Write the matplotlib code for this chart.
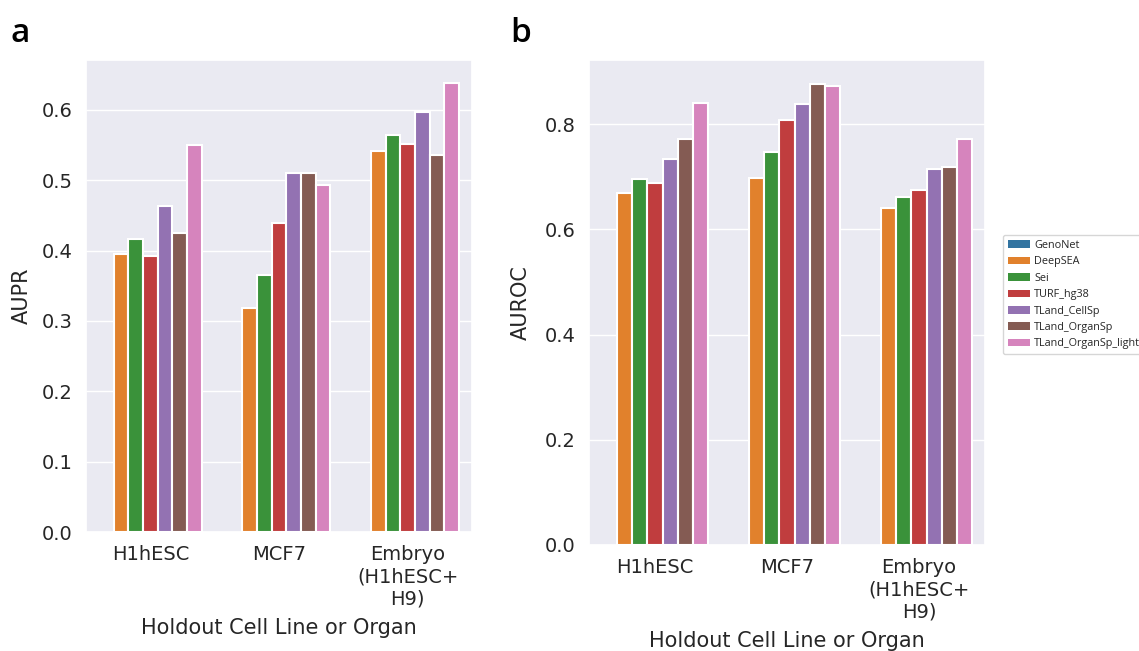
import matplotlib
matplotlib.use("Agg")
import matplotlib.pyplot as plt
import numpy as np
import seaborn as sns
from matplotlib.patches import Patch

# data
groups = ["H1hESC", "MCF7", "Embryo\n(H1hESC+\nH9)"]
models = ["GenoNet", "DeepSEA", "Sei", "TURF_hg38", "TLand_CellSp", "TLand_OrganSp", "TLand_OrganSp_light"]

# rows = models, cols = groups (GenoNet has no value)
aupr = [
    [np.nan, np.nan, np.nan],
    [0.395, 0.319, 0.541],
    [0.416, 0.366, 0.565],
    [0.393, 0.439, 0.551],
    [0.463, 0.511, 0.597],
    [0.425, 0.511, 0.536],
    [0.550, 0.494, 0.639],
]
auroc = [
    [np.nan, np.nan, np.nan],
    [0.669, 0.697, 0.640],
    [0.695, 0.747, 0.661],
    [0.688, 0.807, 0.675],
    [0.733, 0.838, 0.714],
    [0.772, 0.877, 0.718],
    [0.841, 0.872, 0.772],
]

sns.set_theme(style="darkgrid")
plt.rcParams["font.family"] = ["DejaVu Sans"]

colors = [sns.desaturate(c, 0.75) for c in sns.color_palette("tab10", len(models))]

W, H = 1139, 651
fig = plt.figure(figsize=(W / 100, H / 100), dpi=100)


def px_axes(left, top, right, bottom):
    return fig.add_axes([left / W, 1 - bottom / H, (right - left) / W, (bottom - top) / H])


def draw_panel(ax, values, ylabel, ymax, ypad):
    n = len(models)
    width = 0.8 / n
    x = np.arange(len(groups))
    for i, (name, vals) in enumerate(zip(models, values)):
        offs = -0.4 + width * (i + 0.5)
        ax.bar(x + offs, vals, width=width, color=colors[i], edgecolor="white", linewidth=1.5, label=name)
    ax.set_xticks(x)
    ax.set_xticklabels(groups, fontsize=14)
    ax.set_xlim(-0.5, len(groups) - 0.5)
    ax.set_ylim(0, ymax)
    ax.grid(axis="x", visible=False)
    ax.tick_params(axis="y", labelsize=14)
    ax.set_ylabel(ylabel, fontsize=15, labelpad=ypad)
    ax.set_xlabel("Holdout Cell Line or Organ", fontsize=15, labelpad=7)


ax1 = px_axes(86, 60, 472, 532)
draw_panel(ax1, aupr, "AUPR", 0.671, 7.5)
ax1.set_yticks(np.arange(0, 0.61, 0.1))

ax2 = px_axes(589, 60, 985, 545)
draw_panel(ax2, auroc, "AUROC", 0.922, 10)
ax2.set_yticks(np.arange(0, 0.81, 0.2))

fig.text(10 / W, 1 - 42 / H, "a", fontsize=24, fontweight="semibold", color="black",
         family=["Open Sans", "DejaVu Sans"])
fig.text(510 / W, 1 - 42 / H, "b", fontsize=24, fontweight="semibold", color="black",
         family=["Open Sans", "DejaVu Sans"])

handles = [Patch(facecolor=colors[i], edgecolor="none", label=m) for i, m in enumerate(models)]
leg = fig.legend(handles=handles, loc="upper left", bbox_to_anchor=(1003 / W, 1 - 235 / H),
                 prop={"family": ["Open Sans", "DejaVu Sans"], "size": 7.8},
                 frameon=True, handlelength=2.0, handleheight=0.7, labelspacing=0.5,
                 borderpad=0.45, handletextpad=0.45, borderaxespad=0)
leg.get_frame().set_facecolor("white")
leg.get_frame().set_edgecolor("#cccccc")

fig.savefig("out.png", dpi=100)
